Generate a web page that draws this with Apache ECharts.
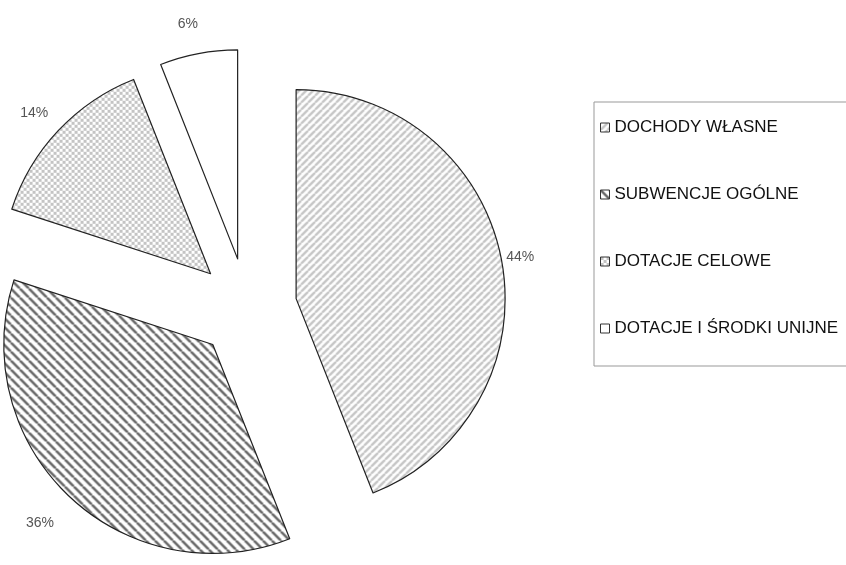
<!DOCTYPE html>
<html>
<head>
<meta charset="utf-8">
<script src="https://cdn.jsdelivr.net/npm/echarts@6/dist/echarts.min.js"></script>
<style>
  html, body { margin: 0; padding: 0; background: #fff; }
  #chart { width: 846px; height: 565px; }
</style>
</head>
<body>
<div id="chart"></div>
<script>
// dane
var categories = ['DOCHODY WŁASNE', 'SUBWENCJE OGÓLNE', 'DOTACJE CELOWE', 'DOTACJE I ŚRODKI UNIJNE']
var values = [44, 36, 14, 6]
// odstep etykiety od luku (per wycinek)
var labelGap = [14, 36, 26, 30]

function stripes(size, color, lw, dir) {
  var c = document.createElement('canvas')
  c.width = c.height = size
  var g = c.getContext('2d')
  g.fillStyle = '#fff'
  g.fillRect(0, 0, size, size)
  g.strokeStyle = color
  g.lineWidth = lw
  g.beginPath()
  for (var k = -1; k <= 1; k++) {
    if (dir === '/') {
      g.moveTo(k * size, size)
      g.lineTo(k * size + size, 0)
    } else {
      g.moveTo(k * size, 0)
      g.lineTo(k * size + size, size)
    }
  }
  g.stroke()
  return { image: c, repeat: 'repeat' }
}

function checker(size, color) {
  var c = document.createElement('canvas')
  c.width = c.height = size
  var g = c.getContext('2d')
  g.fillStyle = '#fff'
  g.fillRect(0, 0, size, size)
  g.fillStyle = color
  var h = size / 2
  g.fillRect(0, 0, h, h)
  g.fillRect(h, h, h, h)
  return { image: c, repeat: 'repeat' }
}

var fills = [
  stripes(7, '#c6c6c6', 2.4, '/'),
  stripes(9, '#6a6a6a', 2.6, '\\'),
  checker(6, '#c4c4c4'),
  '#ffffff'
]

var pieData = categories.map(function (name, i) {
  return {
    name: name,
    value: values[i],
    selected: true,
    itemStyle: { color: fills[i] },
    labelLine: { show: false, length: labelGap[i], length2: 0 }
  }
})

var chart = echarts.init(document.getElementById('chart'))
var option = {
  animation: false,
  backgroundColor: '#fff',
  legend: {
    orient: 'vertical',
    left: 594,
    top: 102,
    padding: [17, 14, 29, 6],
    itemGap: 50,
    itemWidth: 9,
    itemHeight: 9,
    icon: 'rect',
    borderColor: '#999',
    borderWidth: 1,
    selectedMode: false,
    itemStyle: { borderColor: '#333', borderWidth: 1 },
    textStyle: {
      fontFamily: 'Liberation Sans, Arial, sans-serif',
      fontSize: 17,
      color: '#111'
    },
    data: categories
  },
  series: [{
    type: 'pie',
    center: [247, 308],
    radius: 209,
    startAngle: 90,
    clockwise: true,
    selectedMode: 'multiple',
    selectedOffset: 50,
    avoidLabelOverlap: false,
    silent: true,
    itemStyle: { borderColor: '#222', borderWidth: 1.2 },
    label: {
      show: true,
      position: 'outside',
      formatter: '{c}%',
      fontFamily: 'Liberation Sans, Arial, sans-serif',
      fontSize: 14,
      color: '#555'
    },
    labelLayout: { align: 'center' },
    emphasis: { disabled: true },
    data: pieData
  }]
}
chart.setOption(option)
</script>
</body>
</html>
